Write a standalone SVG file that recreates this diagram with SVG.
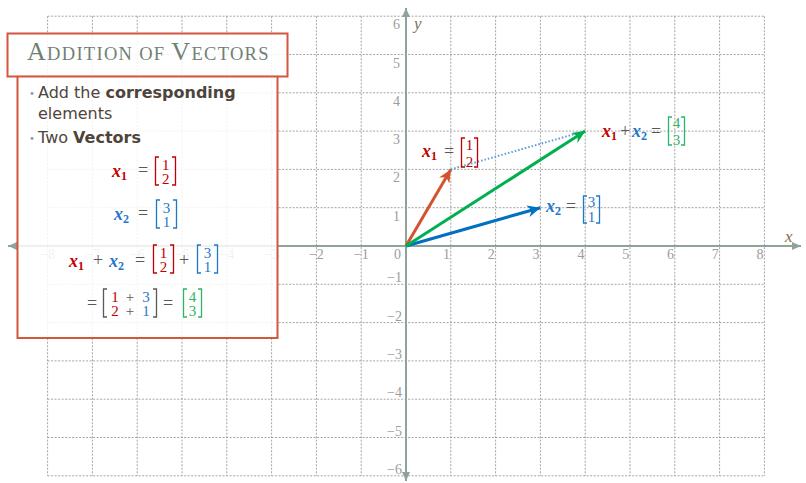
<svg xmlns="http://www.w3.org/2000/svg" width="806" height="483" viewBox="0 0 806 483">
<style>
.grid line{stroke:#a4a4a4;stroke-width:1;stroke-dasharray:2 1.5}
.axis{stroke:#8fa39a;stroke-width:2}
.tick{font-family:"Liberation Serif",serif;font-size:14px;fill:#9c9c9c}
.ax{font-family:"Liberation Serif",serif;font-style:italic;font-size:17px;fill:#7f6f4f}
.box{fill:#ffffff;fill-opacity:0.85;stroke:#d4563f;stroke-width:2}
.title{font-family:"Liberation Serif",serif;fill:#6f8172;letter-spacing:1.3px}
.body{font-family:"DejaVu Sans",sans-serif;font-size:16px;fill:#4e443c}
.bul{font-family:"DejaVu Sans",sans-serif;font-size:10px;fill:#8fa39a}
.m{font-family:"Liberation Serif",serif;font-size:18px;fill:#595959}
.mx{font-style:italic;font-weight:bold}
.ms{font-weight:bold;font-size:12px}
.d{font-family:"Liberation Serif",serif;font-size:15px;text-anchor:middle}
.br{fill:none;stroke-width:1.3}
.r{fill:#c00000}.rs{stroke:#c00000}
.b{fill:#1f78c8}.bs{stroke:#1f78c8}
.g{fill:#2db36a}.gs{stroke:#2db36a}
.k{fill:#595959}
.vec{stroke-width:3;fill:none}
</style>
<defs>
<marker id="ar" markerUnits="userSpaceOnUse" markerWidth="14" markerHeight="12" refX="13" refY="6" orient="auto"><path d="M0,0 L13,6 L0,12 L4,6 z" fill="#d35230"/></marker>
<marker id="ab" markerUnits="userSpaceOnUse" markerWidth="14" markerHeight="12" refX="13" refY="6" orient="auto"><path d="M0,0 L13,6 L0,12 L4,6 z" fill="#0070c0"/></marker>
<marker id="ag" markerUnits="userSpaceOnUse" markerWidth="14" markerHeight="12" refX="13" refY="6" orient="auto"><path d="M0,0 L13,6 L0,12 L4,6 z" fill="#00b050"/></marker>
<marker id="aa" markerUnits="userSpaceOnUse" markerWidth="10" markerHeight="10" refX="9" refY="5" orient="auto-start-reverse"><path d="M0,1 L9,5 L0,9 z" fill="#8fa39a"/></marker>
</defs>

<g id="grid" class="grid">
<line x1="47.6" y1="16.2" x2="47.6" y2="475.8"/>
<line x1="92.4" y1="16.2" x2="92.4" y2="475.8"/>
<line x1="137.2" y1="16.2" x2="137.2" y2="475.8"/>
<line x1="182" y1="16.2" x2="182" y2="475.8"/>
<line x1="226.8" y1="16.2" x2="226.8" y2="475.8"/>
<line x1="271.6" y1="16.2" x2="271.6" y2="475.8"/>
<line x1="316.4" y1="16.2" x2="316.4" y2="475.8"/>
<line x1="361.2" y1="16.2" x2="361.2" y2="475.8"/>
<line x1="450.8" y1="16.2" x2="450.8" y2="475.8"/>
<line x1="495.6" y1="16.2" x2="495.6" y2="475.8"/>
<line x1="540.4" y1="16.2" x2="540.4" y2="475.8"/>
<line x1="585.2" y1="16.2" x2="585.2" y2="475.8"/>
<line x1="630" y1="16.2" x2="630" y2="475.8"/>
<line x1="674.8" y1="16.2" x2="674.8" y2="475.8"/>
<line x1="719.6" y1="16.2" x2="719.6" y2="475.8"/>
<line x1="764.4" y1="16.2" x2="764.4" y2="475.8"/>
<line x1="47.6" y1="16.2" x2="764.4" y2="16.2"/>
<line x1="47.6" y1="54.5" x2="764.4" y2="54.5"/>
<line x1="47.6" y1="92.8" x2="764.4" y2="92.8"/>
<line x1="47.6" y1="131.1" x2="764.4" y2="131.1"/>
<line x1="47.6" y1="169.4" x2="764.4" y2="169.4"/>
<line x1="47.6" y1="207.7" x2="764.4" y2="207.7"/>
<line x1="47.6" y1="284.3" x2="764.4" y2="284.3"/>
<line x1="47.6" y1="322.6" x2="764.4" y2="322.6"/>
<line x1="47.6" y1="360.9" x2="764.4" y2="360.9"/>
<line x1="47.6" y1="399.2" x2="764.4" y2="399.2"/>
<line x1="47.6" y1="437.5" x2="764.4" y2="437.5"/>
<line x1="47.6" y1="475.8" x2="764.4" y2="475.8"/>
</g>

<g id="axes">
<line class="axis" x1="8" y1="246" x2="801" y2="246" marker-start="url(#aa)" marker-end="url(#aa)"/>
<line class="axis" x1="406" y1="481" x2="406" y2="8" marker-start="url(#aa)" marker-end="url(#aa)"/>
<text class="ax" x="785" y="242">x</text>
<text class="ax" x="414" y="29">y</text>
</g>

<g id="ticks" class="tick">
<text x="47.6" y="259" text-anchor="middle">−8</text>
<text x="92.4" y="259" text-anchor="middle">−7</text>
<text x="137.2" y="259" text-anchor="middle">−6</text>
<text x="182" y="259" text-anchor="middle">−5</text>
<text x="226.8" y="259" text-anchor="middle">−4</text>
<text x="271.6" y="259" text-anchor="middle">−3</text>
<text x="316.4" y="259" text-anchor="middle">−2</text>
<text x="361.2" y="259" text-anchor="middle">−1</text>
<text x="401" y="259" text-anchor="end">0</text>
<text x="450" y="259" text-anchor="end">1</text>
<text x="494.8" y="259" text-anchor="end">2</text>
<text x="539.6" y="259" text-anchor="end">3</text>
<text x="584.4" y="259" text-anchor="end">4</text>
<text x="629.2" y="259" text-anchor="end">5</text>
<text x="674" y="259" text-anchor="end">6</text>
<text x="718.8" y="259" text-anchor="end">7</text>
<text x="763.6" y="259" text-anchor="end">8</text>
<text x="400" y="29" text-anchor="end">6</text>
<text x="400" y="67.5" text-anchor="end">5</text>
<text x="400" y="105.8" text-anchor="end">4</text>
<text x="400" y="144.1" text-anchor="end">3</text>
<text x="400" y="182.4" text-anchor="end">2</text>
<text x="400" y="220.7" text-anchor="end">1</text>
<text x="402" y="282.3" text-anchor="end">−1</text>
<text x="402" y="320.6" text-anchor="end">−2</text>
<text x="402" y="358.9" text-anchor="end">−3</text>
<text x="402" y="397.2" text-anchor="end">−4</text>
<text x="402" y="435.5" text-anchor="end">−5</text>
<text x="402" y="473.8" text-anchor="end">−6</text>
</g>

<g id="panel">
<rect class="box" x="17.5" y="76" width="260" height="262"/>
<text class="bul" x="29" y="97">•</text>
<text class="body" x="38" y="98">Add the <tspan font-weight="bold">corresponding</tspan></text>
<text class="body" x="38" y="119">elements</text>
<text class="bul" x="29" y="142">•</text>
<text class="body" x="38" y="143">Two <tspan font-weight="bold">Vectors</tspan></text>
</g>

<g id="title">
<rect class="box" x="7.5" y="33.5" width="280" height="43" fill-opacity="0.9"/>
<text class="title" x="27" y="60" font-size="18.5px"><tspan font-size="26px">A</tspan>DDITION OF <tspan font-size="26px">V</tspan>ECTORS</text>
</g>

<g id="eq1">
<text class="m"><tspan class="mx r" x="112" y="177">x</tspan><tspan class="ms r" x="121" y="180">1</tspan><tspan x="137.9" y="176">=</tspan></text>
<path class="br rs" d="M159,157 h-3.5 v28 h3.5 M172,157 h3.5 v28 h-3.5"/>
<text class="d r"><tspan x="165.7" y="170">1</tspan><tspan x="165.7" y="183.5">2</tspan></text>
</g>

<g id="eq2">
<text class="m"><tspan class="mx b" x="114" y="220">x</tspan><tspan class="ms b" x="123" y="223">2</tspan><tspan x="137.9" y="219">=</tspan></text>
<path class="br bs" d="M160,200 h-3.5 v28 h3.5 M173,200 h3.5 v28 h-3.5"/>
<text class="d b"><tspan x="166.5" y="213">3</tspan><tspan x="166.5" y="226.5">1</tspan></text>
</g>

<g id="eq3">
<text class="m"><tspan class="mx r" x="69" y="267">x</tspan><tspan class="ms r" x="78" y="270">1</tspan><tspan x="92.9" y="266">+</tspan><tspan class="mx b" x="109" y="267">x</tspan><tspan class="ms b" x="118" y="270">2</tspan><tspan x="134.9" y="266">=</tspan><tspan x="178.9" y="266">+</tspan></text>
<path class="br rs" d="M157,245 h-3.5 v28 h3.5 M170,245 h3.5 v28 h-3.5"/>
<text class="d r"><tspan x="163.5" y="258">1</tspan><tspan x="163.5" y="271.5">2</tspan></text>
<path class="br bs" d="M201,245 h-3.5 v28 h3.5 M214,245 h3.5 v28 h-3.5"/>
<text class="d b"><tspan x="207.5" y="258">3</tspan><tspan x="207.5" y="271.5">1</tspan></text>
</g>

<g id="eq4">
<text class="m"><tspan x="86.9" y="309">=</tspan><tspan x="162.9" y="309">=</tspan></text>
<path class="br" stroke="#595959" d="M107,289 h-3.5 v28 h3.5 M153,289 h3.5 v28 h-3.5"/>
<text class="d"><tspan class="r" x="115" y="302">1</tspan><tspan class="k" x="130" y="302">+</tspan><tspan class="b" x="146" y="302">3</tspan><tspan class="r" x="115" y="315.5">2</tspan><tspan class="k" x="130" y="315.5">+</tspan><tspan class="b" x="146" y="315.5">1</tspan></text>
<path class="br gs" d="M187,289 h-3.5 v28 h3.5 M198,289 h3.5 v28 h-3.5"/>
<text class="d g"><tspan x="192.5" y="302">4</tspan><tspan x="192.5" y="315.5">3</tspan></text>
</g>

<g id="connectors">
<line x1="450.8" y1="169.4" x2="583" y2="131.7" stroke="#5b9bd5" stroke-width="2" stroke-dasharray="1.5 2"/>
<line class="vec" x1="406" y1="246" x2="450.8" y2="169.4" stroke="#d35230" marker-end="url(#ar)"/>
<line class="vec" x1="406" y1="246" x2="540.4" y2="207.7" stroke="#0070c0" marker-end="url(#ab)"/>
<line class="vec" x1="406" y1="246" x2="585.2" y2="131.1" stroke="#00b050" marker-end="url(#ag)"/>
</g>

<g id="label-x1">
<text class="m"><tspan class="mx r" x="422" y="157">x</tspan><tspan class="ms r" x="431" y="160">1</tspan><tspan x="443.9" y="157">=</tspan></text>
<path class="br rs" d="M465,138 h-3.5 v29 h3.5 M474,138 h3.5 v29 h-3.5"/>
<text class="d r"><tspan x="469.5" y="149.5">1</tspan><tspan x="469.5" y="166.5">2</tspan></text>
</g>

<g id="label-x2">
<text class="m"><tspan class="mx b" x="546" y="212">x</tspan><tspan class="ms b" x="555" y="215">2</tspan><tspan x="565.9" y="212">=</tspan></text>
<path class="br bs" d="M587,196 h-3.5 v27 h3.5 M596,196 h3.5 v27 h-3.5"/>
<text class="d b"><tspan x="591.5" y="207">3</tspan><tspan x="591.5" y="222">1</tspan></text>
</g>

<g id="label-sum">
<text class="m"><tspan class="mx r" x="602" y="137">x</tspan><tspan class="ms r" x="611" y="140">1</tspan><tspan x="619.9" y="137">+</tspan><tspan class="mx b" x="632" y="137">x</tspan><tspan class="ms b" x="641" y="140">2</tspan><tspan x="650.9" y="137">=</tspan></text>
<path class="br gs" d="M672,117 h-3.5 v28 h3.5 M681,117 h3.5 v28 h-3.5"/>
<text class="d g"><tspan x="676.5" y="128">4</tspan><tspan x="676.5" y="145">3</tspan></text>
</g>
</svg>
